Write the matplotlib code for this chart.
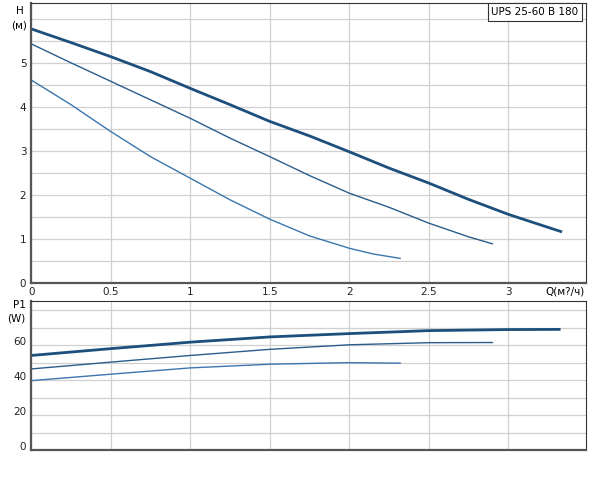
import matplotlib
matplotlib.use("Agg")
import matplotlib.pyplot as plt
import matplotlib.transforms as mtransforms
import numpy as np

# Pump head curves (Q in m3/h, H in m)
q_max = [0.0, 0.25, 0.5, 0.75, 1.0, 1.25, 1.5, 1.75, 2.0, 2.25, 2.5, 2.75, 3.0, 3.33]
h_max = [5.77, 5.46, 5.14, 4.80, 4.42, 4.05, 3.67, 3.34, 2.98, 2.61, 2.27, 1.90, 1.56, 1.17]
q_mid = [0.0, 0.25, 0.5, 0.75, 1.0, 1.25, 1.5, 1.75, 2.0, 2.25, 2.5, 2.75, 2.90]
h_mid = [5.43, 5.00, 4.58, 4.16, 3.74, 3.29, 2.87, 2.44, 2.04, 1.72, 1.36, 1.05, 0.89]
q_min = [0.0, 0.25, 0.5, 0.75, 1.0, 1.25, 1.5, 1.75, 2.0, 2.15, 2.32]
h_min = [4.61, 4.05, 3.44, 2.87, 2.38, 1.89, 1.45, 1.07, 0.79, 0.66, 0.56]

# Power curves (P1 in W) on coarser Q steps
qp_max = [0.0, 0.5, 1.0, 1.5, 2.0, 2.5, 3.0, 3.32]
p_max = [54.1, 58.0, 61.7, 64.7, 66.6, 68.3, 68.9, 69.0]
qp_mid = [0.0, 0.5, 1.0, 1.5, 2.0, 2.5, 2.90]
p_mid = [46.4, 50.3, 54.1, 57.6, 60.2, 61.4, 61.5]
qp_min = [0.0, 0.5, 1.0, 1.5, 2.0, 2.32]
p_min = [39.7, 43.4, 47.0, 49.1, 50.0, 49.7]

x_labels = ["0", "0.5", "1", "1.5", "2", "2.5", "3"]
h_ticks = [0, 1, 2, 3, 4, 5]
p_ticks = [0, 20, 40, 60]

title = "UPS 25-60 B 180"

DARK = "#1d4f7c"
MID = "#2a5d8c"
LIGHT = "#3a76ad"
GRID = "#d0d0d0"
FRAME = "#555555"

fig = plt.figure(figsize=(6.0, 4.83), dpi=100)
ax_h = fig.add_axes([0.052, 0.414, 0.925, 0.580])
ax_p = fig.add_axes([0.052, 0.068, 0.925, 0.308])


def style_axes(ax):
    ax.set_xlim(0, 3.49)
    ax.set_xticks(np.arange(0, 3.5, 0.5))
    ax.grid(True, color=GRID, linewidth=0.9)
    ax.tick_params(length=0, labelsize=7.5, colors="#222222")
    for side in ["top", "right"]:
        ax.spines[side].set_color("#333333")
        ax.spines[side].set_linewidth(0.8)
    for side in ["left", "bottom"]:
        ax.spines[side].set_color(FRAME)
        ax.spines[side].set_linewidth(1.6)
    ax.set_axisbelow(True)


# head panel
style_axes(ax_h)
ax_h.set_ylim(0, 6.36)
ax_h.set_yticks(np.arange(0, 6.5, 0.5))
ax_h.set_yticklabels([str(int(v)) if v in h_ticks else "" for v in np.arange(0, 6.5, 0.5)])
ax_h.set_xticklabels(x_labels)
ax_h.tick_params(axis="x", pad=3)
ax_h.plot(q_max, h_max, color=DARK, linewidth=2.0)
ax_h.plot(q_mid, h_mid, color=MID, linewidth=1.0)
ax_h.plot(q_min, h_min, color=LIGHT, linewidth=1.0)
ax_h.text(-0.02, 0.97, "H", transform=ax_h.transAxes, ha="center", va="center", fontsize=7.5)
ax_h.text(-0.022, 0.92, "(м)", transform=ax_h.transAxes, ha="center", va="center", fontsize=7.5)
ax_h.text(0.998, -0.03, "Q(м?/ч)", transform=ax_h.transAxes, ha="right", va="center", fontsize=7.5)
ax_h.text(0.986, 0.985, title, transform=ax_h.transAxes, ha="right", va="top", fontsize=7.5,
          bbox=dict(boxstyle="square,pad=0.35", facecolor="white", edgecolor="#333333", linewidth=0.8))

# power panel
style_axes(ax_p)
ax_p.set_ylim(0, 85)
ax_p.set_yticks(np.arange(0, 90, 10))
ax_p.set_yticklabels([str(v) if v in p_ticks else "" for v in range(0, 90, 10)])
ax_p.set_xticklabels([])
shift = mtransforms.ScaledTranslation(0, 4 / 100, fig.dpi_scale_trans)
for lab in ax_p.get_yticklabels():
    lab.set_transform(lab.get_transform() + shift)
ax_p.plot(qp_max, p_max, color=DARK, linewidth=2.0)
ax_p.plot(qp_mid, p_mid, color=MID, linewidth=1.0)
ax_p.plot(qp_min, p_min, color=LIGHT, linewidth=1.0)
ax_p.text(-0.01, 0.975, "P1", transform=ax_p.transAxes, ha="right", va="center", fontsize=7.5)
ax_p.text(-0.01, 0.885, "(W)", transform=ax_p.transAxes, ha="right", va="center", fontsize=7.5)

fig.savefig("out.png", dpi=100)
plt.close(fig)
